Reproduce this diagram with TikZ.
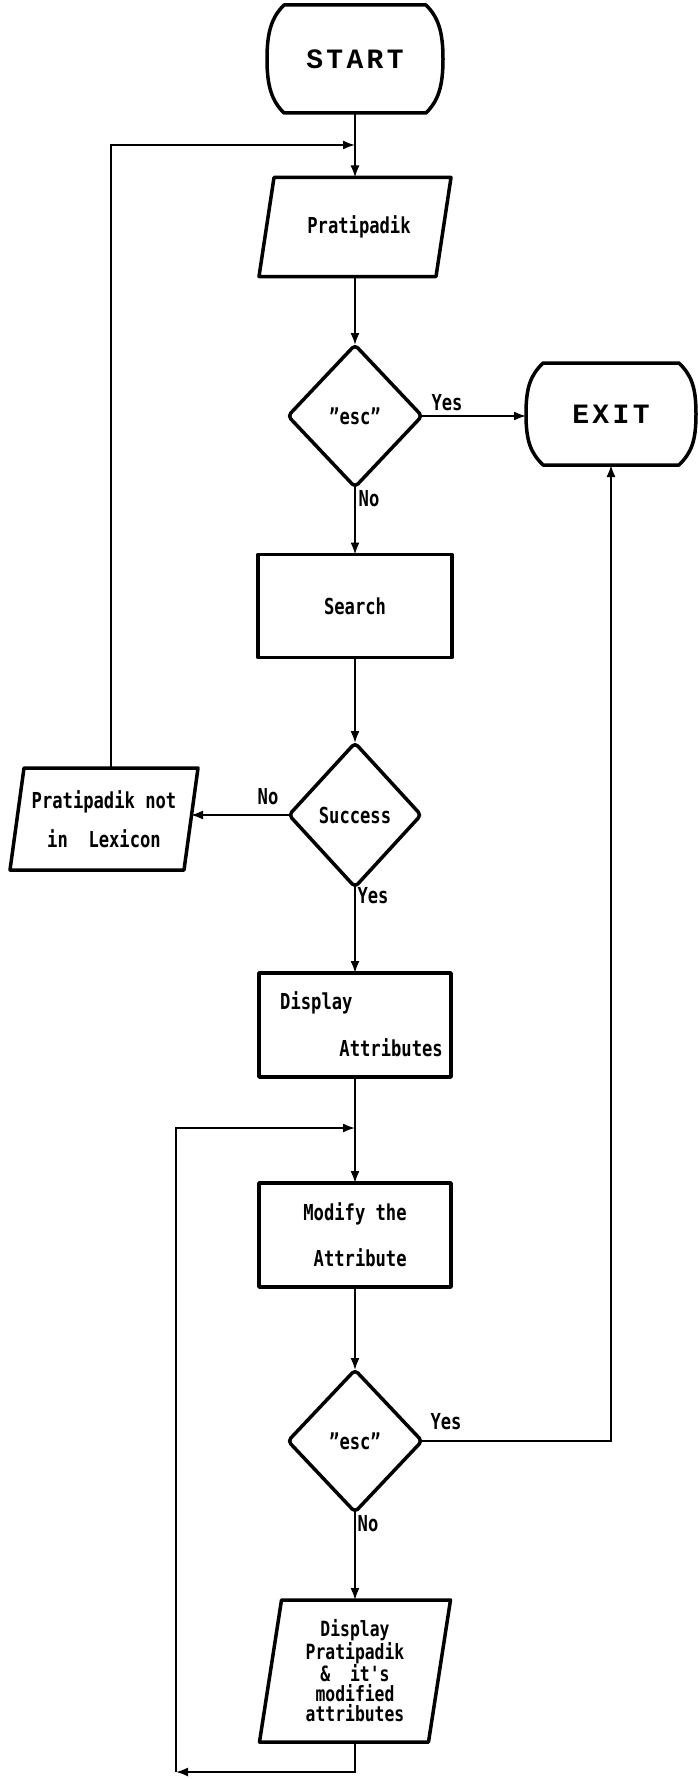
\documentclass[tikz,border=0pt]{standalone}
\usepackage{fontspec}
\usetikzlibrary{shapes.geometric,arrows.meta}
\newfontfamily\lblfont[FakeStretch=0.78]{DejaVu Sans Mono}
\newfontfamily\termfont[LetterSpace=12]{Liberation Mono}
\tikzset{
  shapeline/.style={line width=3.5pt, line join=round},
  conn/.style={line width=1.8pt},
  arr/.style={conn, -{Latex[length=12pt,width=9pt]}},
  txt/.style={font=\lblfont\bfseries\fontsize{22}{24}\selectfont, inner sep=0pt},
  lbl/.style={txt},
  holder/.style={inner sep=0pt, outer sep=0pt, font=\lblfont\bfseries\fontsize{22}{24}\selectfont},
  procbox/.style={holder, draw, shapeline},
  decision/.style={holder, diamond, draw, shapeline, rounded corners=4pt},
  term/.style={holder, font=\termfont\bfseries\fontsize{28}{30}\selectfont},
}
\newcommand\termoutline[1]{%
  \draw[shapeline] ([xshift=17pt]#1.north west) -- ([xshift=-17pt]#1.north east)
    .. controls +(12,12) and +(0,-28) .. (#1.east)
    .. controls +(0,28) and +(12,-12) .. ([xshift=-17pt]#1.south east)
    -- ([xshift=17pt]#1.south west)
    .. controls +(-12,-12) and +(0,28) .. (#1.west)
    .. controls +(0,-28) and +(-12,12) .. ([xshift=17pt]#1.north west) -- cycle;}
\newcommand\paraoutline[2]{%
  \draw[shapeline] ([xshift=#2]#1.north west) -- (#1.north east)
    -- ([xshift=-#2]#1.south east) -- (#1.south west) -- cycle;}
\begin{document}
\begin{tikzpicture}[x=1pt,y=-1pt]
\useasboundingbox (0,0) rectangle (698,1779);
\fill[white] (0,0) rectangle (698,1779);

% terminators
\node[term, minimum width=176pt, minimum height=108pt] (start) at (355,59) {START};
\termoutline{start}
\node[term, minimum width=170pt, minimum height=102pt] (exit) at (611,414) {EXIT};
\termoutline{exit}

% input parallelogram
\node[holder, minimum width=192pt, minimum height=99pt] (prat) at (355,227) {\hspace*{8pt}Pratipadik};
\paraoutline{prat}{15pt}

% decision 1
\node[decision, minimum width=134pt, minimum height=142pt] (esc1) at (355,416) {”esc”};

% search
\node[procbox, minimum width=194pt, minimum height=103pt] (search) at (355,606) {Search};

% success
\node[decision, minimum width=132pt, minimum height=144pt] (success) at (355,815) {Success};

% not in lexicon
\node[holder, align=center, minimum width=188pt, minimum height=102pt] (notlex) at (104,819) {Pratipadik not\\[15pt]in\ \ Lexicon};
\paraoutline{notlex}{14pt}

% display attributes
\node[procbox, minimum width=192pt, minimum height=104pt] (dispattr) at (355,1025) {};
\node[txt, anchor=west] (da1) at (280,1003) {Display};
\node[txt, anchor=east] (da2) at (443,1048) {Attributes};

% modify
\node[procbox, align=center, minimum width=192pt, minimum height=104pt] (modify) at (355,1235) {Modify the\\[22pt]\ Attribute};

% decision 2
\node[decision, minimum width=134pt, minimum height=142pt] (esc2) at (355,1441) {”esc”};

% display output
\node[holder, align=center, minimum width=191pt, minimum height=142pt,
      font=\lblfont\bfseries\fontsize{21}{20}\selectfont] (disp) at (355,1671)
      {Display\\Pratipadik\\\&\ \ it's\\modified\\attributes};
\paraoutline{disp}{22pt}

% labels
\node[lbl] (yes1) at (447,403) {Yes};
\node[lbl] (no1) at (369,499) {No};
\node[lbl] (no2) at (268,797) {No};
\node[lbl] (yes2) at (373,896) {Yes};
\node[lbl] (yes3) at (446,1422) {Yes};
\node[lbl] (no3) at (368,1524) {No};

% loop coordinates
\coordinate (l1) at (111,145);
\coordinate (l2t) at (176,1128);
\coordinate (l2b) at (176,1772);

% connectors
\draw[arr] (start) -- (prat);
\draw[arr] (prat) -- (esc1);
\draw[arr] (esc1.east) -- (esc1.east -| exit.west);
\draw[arr] (esc1) -- (search);
\draw[arr] (search) -- (success);
\draw[arr] (success.west) -- ([xshift=-7pt]success.west -| notlex.east);
\draw[arr] (l1 |- notlex.north) -- (l1) -- (l1 -| prat.north);
\draw[arr] (success) -- (dispattr);
\draw[arr] (dispattr) -- (modify);
\draw[arr] (l2b) -- (l2t) -- (l2t -| modify.north);
\draw[arr] (modify) -- (esc2);
\draw[arr] (esc2.east) -| (exit.south);
\draw[arr] (esc2) -- (disp);
\draw[arr] (disp.south) |- (l2b);
\end{tikzpicture}
\end{document}
